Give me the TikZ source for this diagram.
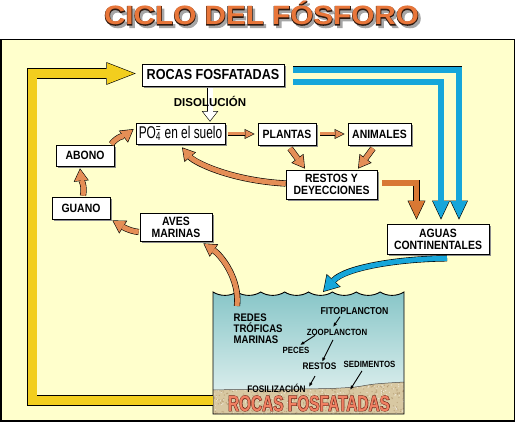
\documentclass[tikz,border=0pt]{standalone}
\usepackage{fontspec}
\setmainfont{Liberation Sans}
\newfontfamily\cf[FakeStretch=0.87]{Liberation Sans}
\newfontfamily\cff[FakeStretch=0.7]{Liberation Sans}
\newfontfamily\cffo[FakeStretch=0.7, FakeBold=4]{Liberation Sans}
\newfontfamily\wf[FakeStretch=1.12]{Liberation Sans}
\newfontfamily\wfo[FakeStretch=1.12, FakeBold=4]{Liberation Sans}
\usetikzlibrary{arrows.meta,shadows,calc}
\definecolor{bgy}{RGB}{255,255,204}
\definecolor{gold}{RGB}{242,206,30}
\definecolor{sky}{RGB}{22,166,218}
\definecolor{org}{RGB}{228,142,86}
\definecolor{dorg}{RGB}{216,120,52}
\definecolor{titleorg}{RGB}{232,118,58}
\definecolor{tdark}{RGB}{45,25,15}
\definecolor{wtop}{RGB}{136,198,200}
\definecolor{wbot}{RGB}{236,246,244}
\definecolor{sand}{RGB}{216,200,162}
\definecolor{sanddk}{RGB}{160,130,90}
\definecolor{salmon}{RGB}{240,128,98}
\definecolor{brick}{RGB}{110,35,22}
\tikzset{
  boxx/.style={draw, fill=white, line width=0.7pt, inner sep=0pt, align=center,
    font=\cf\bfseries\fontsize{12}{12}\selectfont,
    drop shadow={shadow xshift=2pt, shadow yshift=-2pt, opacity=1, fill=black!45}},
  wtext/.style={inner sep=0pt, font=\cf\bfseries\fontsize{9.5}{9.5}\selectfont},
  sarrow/.style={line width=0.9pt, -{Latex[length=4.5pt,width=3.5pt]}},
  fatO/.style n args={3}{black, line width=#1, -{Triangle[length=#2,width=#3,line width=0pt]}},
  fatI/.style n args={4}{line width=#1, shorten >=#4, -{Triangle[length=#2,width=#3,line width=0pt]}},
  titlef/.style={inner sep=0pt, anchor=base, font=\wf\bfseries\fontsize{26.5}{26.5}\selectfont},
  titlefo/.style={inner sep=0pt, anchor=base, font=\wfo\bfseries\fontsize{26.5}{26.5}\selectfont},
  rockf/.style={inner sep=0pt, anchor=base, font=\cff\bfseries\fontsize{22}{22}\selectfont},
  rockfo/.style={inner sep=0pt, anchor=base, font=\cffo\bfseries\fontsize{22}{22}\selectfont}
}
\newcommand\fatS[2]{\draw[fatO={4.2pt}{10pt}{10pt}] #2; \draw[fatI={3pt}{8pt}{8pt}{1.34pt},#1] #2;}
\newcommand\fatM[2]{\draw[fatO={6.2pt}{12.8pt}{15.1pt}] #2; \draw[fatI={5pt}{11pt}{13pt}{1.18pt},#1] #2;}
\newcommand\fatL[2]{\draw[fatO={6.9pt}{19pt}{17.9pt}] #2; \draw[fatI={5.7pt}{17pt}{16pt}{1.41pt},#1] #2;}
\newcommand\fatC[2]{\draw[fatO={6.2pt}{15.75pt}{19.1pt}] #2; \draw[fatI={5pt}{14pt}{17pt}{1.15pt},#1] #2;}
\newcommand\fatY[2]{\draw[fatO={10.4pt}{29.3pt}{22.8pt}] #2; \draw[fatI={9pt}{27pt}{21pt}{1.65pt},#1] #2;}
\newcommand\fatW[2]{\draw[fatO={6.4pt}{10.6pt}{16.5pt}] #2; \draw[fatI={5pt}{9pt}{14pt}{0.98pt},#1] #2;}
\begin{document}
\begin{tikzpicture}[x=1pt,y=-1pt]
\useasboundingbox (0,0) rectangle (516,422);
\fill[white] (0,0) rectangle (516,422);
\draw[line width=1.3pt, fill=bgy] (1,39.5) rectangle (514.6,421);

% title
\node[titlefo, text=black!35] (tshadow) at (264,27.5) {CICLO DEL FÓSFORO};
\node[titlefo, text=tdark] (toutline) at (261.5,25) {CICLO DEL FÓSFORO};
\node[titlef, text=titleorg] (title) at (261.5,25) {CICLO DEL FÓSFORO};

% water
\shade[top color=wtop, bottom color=wbot] (213,414) -- (213,292)
  \foreach \i in {1,...,8}{ .. controls +(7,4.5) and +(-7,4.5) .. ++(23.875,0)} -- (404,414) -- cycle;
% sediment
\fill[sand] plot[smooth] coordinates {(213,390) (240,389.5) (270,389.8) (300,389) (330,388.5) (355,387) (375,384) (404,382)} -- (404,414) -- (213,414) -- cycle;
\begin{scope}
\clip plot[smooth] coordinates {(213,390) (240,389.5) (270,389.8) (300,389) (330,388.5) (355,387) (375,384) (404,382)} -- (404,414) -- (213,414) -- cycle;
\pgfmathsetseed{12}
\foreach \i in {1,...,420}{
  \pgfmathsetmacro\px{213+191*rnd}
  \pgfmathsetmacro\py{381+33*rnd}
  \fill[sanddk, opacity=0.45] (\px,\py) circle (0.7);
}
\foreach \i in {1,...,250}{
  \pgfmathsetmacro\px{213+191*rnd}
  \pgfmathsetmacro\py{381+33*rnd}
  \fill[white, opacity=0.6] (\px,\py) circle (0.6);
}
\end{scope}
\draw[line width=0.5pt, black!70] plot[smooth] coordinates {(213,390) (240,389.5) (270,389.8) (300,389) (330,388.5) (355,387) (375,384) (404,382)};
\draw[line width=0.9pt] (213,414) -- (213,292)
  \foreach \i in {1,...,8}{ .. controls +(7,4.5) and +(-7,4.5) .. ++(23.875,0)} -- (404,414) -- cycle;

% bottom rock text
\node[rockfo, text=brick] (rockoutline) at (309,411) {ROCAS FOSFATADAS};
\node[rockf, text=salmon] (rocktext) at (309,411) {ROCAS FOSFATADAS};

% water texts
\node[wtext, anchor=west, align=left, font=\cf\bfseries\fontsize{11}{11}\selectfont] (redes) at (233.5,329) {REDES\\TRÓFICAS\\MARINAS};
\node[wtext, font=\cf\bfseries\fontsize{10}{10}\selectfont] (fito) at (354.5,311) {FITOPLANCTON};
\node[wtext, font=\cf\bfseries\fontsize{9}{9}\selectfont] (zoo) at (337,332) {ZOOPLANCTON};
\node[wtext, font=\cf\bfseries\fontsize{9}{9}\selectfont] (peces) at (296,350) {PECES};
\node[wtext] (restos2) at (319.5,366) {RESTOS};
\node[wtext, font=\cf\bfseries\fontsize{9}{9}\selectfont] (sedim) at (369.5,364) {SEDIMENTOS};
\node[wtext] (fosil) at (276.5,388) {FOSILIZACIÓN};
\coordinate (rocksurf) at (350,390);
\draw[sarrow] ($(fito.south)+(-14.5,2)$) -- ($(zoo.north)+(-4,-1.5)$);
\draw[sarrow] ($(zoo.south)+(-22,0)$) -- ($(peces.north)+(4,-1.5)$);
\draw[sarrow] ($(zoo.south)+(-4,4.5)$) -- ($(restos2.north)+(2.5,-0.5)$);
\draw[sarrow] ($(restos2.south)+(-4.5,6.5)$) -- ($(fosil.east)+(3,-1)$);
\draw[sarrow] ($(sedim.south)+(-7.5,3.5)$) -- (rocksurf);

% boxes
\node[boxx, font=\cf\bfseries\fontsize{14.5}{14.5}\selectfont, minimum width=142pt, minimum height=22pt] (rocas) at (213,75) {ROCAS FOSFATADAS};
\node[boxx, font=\cff\fontsize{17}{17}\selectfont, minimum width=89pt, minimum height=21pt] (po4) at (180.5,133.5) {PO\rlap{\textsubscript{4}}\textsuperscript{=} en el suelo};
\node[boxx, minimum width=58pt, minimum height=22pt] (plantas) at (287,134) {PLANTAS};
\node[boxx, minimum width=63pt, minimum height=22pt] (animales) at (379.5,134) {ANIMALES};
\node[boxx, minimum width=91pt, minimum height=29pt] (restos) at (331.5,184.5) {RESTOS Y\\DEYECCIONES};
\node[boxx, minimum width=102pt, minimum height=30pt] (aguas) at (438,239) {AGUAS\\CONTINENTALES};
\node[boxx, minimum width=58pt, minimum height=21pt] (abono) at (85,155.5) {ABONO};
\node[boxx, minimum width=58pt, minimum height=22pt] (guano) at (81,208) {GUANO};
\node[boxx, minimum width=72pt, minimum height=28pt] (aves) at (176,227) {AVES\\MARINAS};

% yellow arrow
\coordinate (ystart) at (213.4,400.5);
\fatY{gold}{(ystart) -- (32,400.5) |- ($(rocas.west)+(-6,-1.5)$)}

% blue arrows
\fatL{sky}{($(rocas.east)+(9,-5.3)$) -| ($(aguas.north)+(21,-4)$)}
\fatL{sky}{($(rocas.east)+(9,7)$) -| ($(aguas.north)+(3,-4)$)}
\coordinate (bstart) at ($(aguas.south)+(9,4)$);
\coordinate (wtip) at (323,292);
\fatC{sky}{(bstart) .. controls (395,259) and (345,268) .. (wtip)}

% dissolution arrow
\fatW{white}{($(rocas.south)+(-3,1.5)$) -- ($(po4.north)+(29.5,-1)$)}
\node[inner sep=0pt, anchor=base, font=\bfseries\fontsize{11.5}{11.5}\selectfont] (disol) at (210,107) {DISOLUCIÓN};

% orange arrows
\fatS{org}{($(po4.east)+(3,0.5)$) -- ($(plantas.west)+(-3,0)$)}
\fatS{org}{($(plantas.east)+(4,0)$) -- ($(animales.west)+(-3,0)$)}
\fatM{org}{($(plantas.south)+(3,3)$) -- ($(restos.north)+(-26.5,-1)$)}
\fatM{org}{($(animales.south)+(-6.5,3)$) -- ($(restos.north)+(26.5,-1)$)}
\fatL{dorg}{($(restos.east)+(5,-1.5)$) -| ($(aguas.north)+(-21.5,-4)$)}
\fatM{org}{($(restos.west)+(0,-1)$) .. controls ($(restos.west)+(-55,-4)$) and ($(po4.south)+(14,18)$) .. ($(po4.south)+(1.5,3)$)}
\fatM{org}{($(abono.north east)+(-3,-0.5)$) .. controls +(6,-8) and +(-8,6) .. ($(po4.west)+(-2,-4.5)$)}
\fatM{org}{($(guano.north)+(2,-1)$) .. controls +(2,-10) and +(1,10) .. ($(abono.south)+(-5,2)$)}
\fatM{org}{($(aves.west)+(-1,5)$) .. controls +(-10,-1) and +(8,5) .. ($(guano.south east)+(2,1)$)}
\coordinate (wup) at (237,306);
\fatM{org}{(wup) .. controls (240,280) and (222,256) .. ($(aves.south east)+(-9,2)$)}
\end{tikzpicture}
\end{document}
